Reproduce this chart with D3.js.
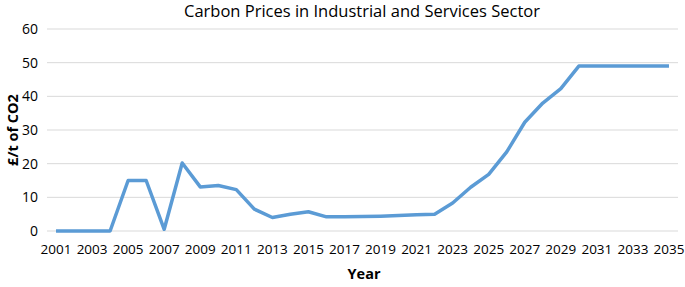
<!DOCTYPE html>
<html>
<head>
<meta charset="utf-8">
<script src="https://cdn.jsdelivr.net/npm/d3@7"></script>
<style>
  body { margin: 0; background: #fff; }
  text { font-family: "Open Sans", "Noto Sans", sans-serif; fill: #000; }
</style>
</head>
<body>
<div id="root"></div>
<script>
// data
var years = d3.range(2001, 2036).map(String);
var prices = [0, 0, 0, 0, 15, 15, 0.5, 20.2, 13.1, 13.5, 12.3, 6.5, 4, 5, 5.7, 4.2, 4.2, 4.3, 4.4, 4.6, 4.8, 5,
  8.3, 13, 16.8, 23.5, 32.3, 38, 42.3, 49, 49, 49, 49, 49, 49];
var yTicks = [0, 10, 20, 30, 40, 50, 60];

var svgWidth = 685, svgHeight = 287;
var margin = {top: 29, right: 7, bottom: 56, left: 47};
var width = svgWidth - margin.left - margin.right,
    height = svgHeight - margin.top - margin.bottom;

var svgH = d3.select("#root").append("svg")
    .attr("width", svgWidth)
    .attr("height", svgHeight);
var svg = svgH.append("g")
    .attr("transform", "translate(" + margin.left + "," + margin.top + ")");

var x = d3.scalePoint().domain(years).range([0, width]).padding(0.5);
var y = d3.scaleLinear().domain([0, 60]).range([height, 0]);

// gridlines
svg.append("g").selectAll("line")
    .data(yTicks)
    .enter().append("line")
    .attr("x1", 0).attr("x2", width)
    .attr("y1", function (d) { return y(d); })
    .attr("y2", function (d) { return y(d); })
    .attr("stroke", "#d9d9d9")
    .attr("stroke-width", 1);

// y tick labels
svg.append("g").selectAll("text")
    .data(yTicks)
    .enter().append("text")
    .attr("x", -9)
    .attr("y", function (d) { return y(d); })
    .attr("dy", "0.35em")
    .attr("text-anchor", "end")
    .attr("font-size", 14)
    .text(function (d) { return d; });

// x tick labels, every other year
svg.append("g").selectAll("text")
    .data(years.filter(function (d, i) { return i % 2 === 0; }))
    .enter().append("text")
    .attr("x", function (d) { return x(d); })
    .attr("y", height + 23)
    .attr("text-anchor", "middle")
    .attr("font-size", 13.5)
    .text(function (d) { return d; });

var line = d3.line()
    .x(function (d, i) { return x(years[i]); })
    .y(function (d) { return y(d); });

svg.append("path")
    .datum(prices)
    .attr("fill", "none")
    .attr("stroke", "#5b9bd5")
    .attr("stroke-width", 3.5)
    .attr("stroke-linejoin", "round")
    .attr("d", line);

// titles
svgH.append("text")
    .attr("x", 362).attr("y", 17)
    .attr("text-anchor", "middle")
    .attr("font-size", 16.5)
    .text("Carbon Prices in Industrial and Services Sector");

svgH.append("text")
    .attr("x", 364).attr("y", 279)
    .attr("text-anchor", "middle")
    .attr("font-size", 14.5)
    .attr("font-weight", "bold")
    .text("Year");

svgH.append("text")
    .attr("transform", "translate(18," + (margin.top + y(30)) + ") rotate(-90)")
    .attr("text-anchor", "middle")
    .attr("font-size", 14.5)
    .attr("font-weight", "bold")
    .text("£/t of CO2");
</script>
</body>
</html>
